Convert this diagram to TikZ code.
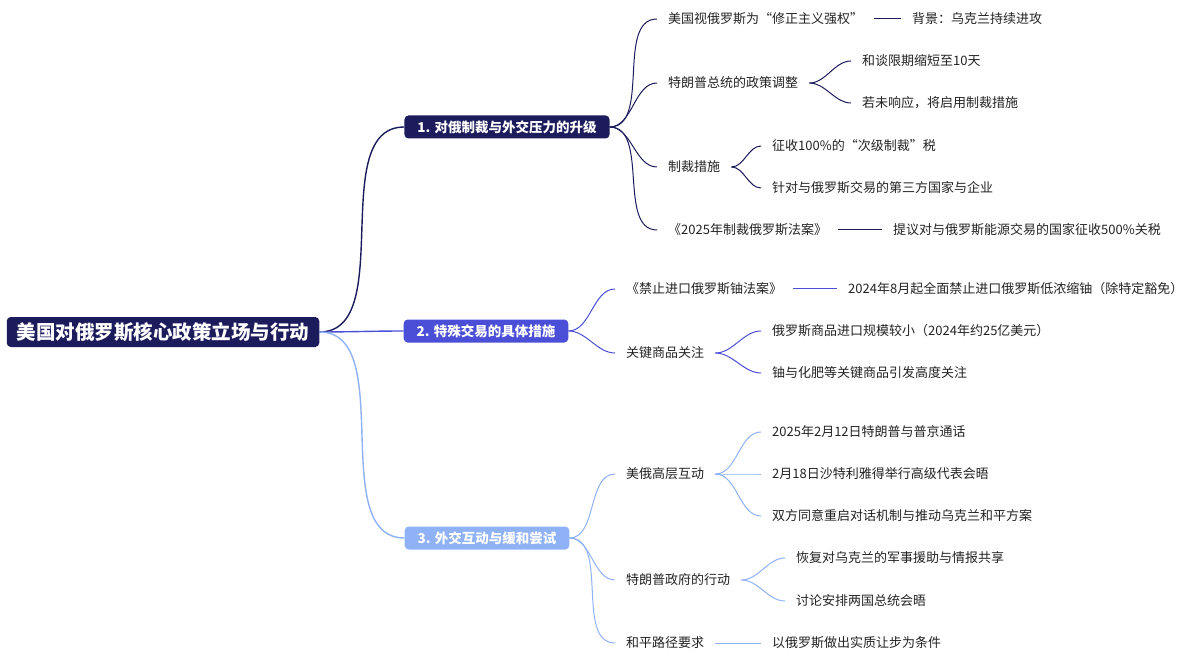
\documentclass[tikz,border=0pt]{standalone}
\usepackage{fontspec}
\setmainfont{Noto Sans CJK SC}
\usetikzlibrary{positioning}
\definecolor{navy}{HTML}{1C1B5C}
\definecolor{violet}{HTML}{4B4FD8}
\definecolor{sky}{HTML}{8FB2F6}
\definecolor{ink}{HTML}{222222}

\begin{document}
\begin{tikzpicture}[x=1pt,y=-1pt,
  every node/.append style={font=\fontsize{13}{15}\selectfont},
  root/.style={rectangle,rounded corners=4pt,fill=navy,text=white,inner xsep=10pt,minimum height=30pt,font=\fontsize{19.5}{21}\selectfont\bfseries},
  topic/.style={rectangle,rounded corners=4pt,text=white,inner xsep=13pt,minimum height=23pt,font=\fontsize{13.5}{15}\selectfont\bfseries},
  leaf/.style={anchor=west,text=ink,inner xsep=11pt,inner ysep=2pt},
  link/.style={line width=1pt,out=0,in=180,looseness=0.9},
  bar/.style={line width=1pt},
  rootlink/.style={line width=1.4pt,out=0,in=180,looseness=0.9}]
    \useasboundingbox (0,0) rectangle (1200,663);
    \node [root] (US) at (163,332) {美国对俄罗斯核心政策立场与行动};
    \node [topic, fill=navy] (T1) at (507,127) {1. 对俄制裁与外交压力的升级};
    \node [topic, fill=violet] (T2) at (486,331) {2. 特殊交易的具体措施};
    \node [topic, fill=sky] (T3) at (487,538) {3. 外交互动与缓和尝试};
    \draw [rootlink, navy] (US.east) to (T1.west);
    \draw [rootlink, violet] (US.east) to (T2.west);
    \draw [rootlink, sky] (US.east) to (T3.west);
    % branch 1
    \node [leaf] (A1) at (657,19) {美国视俄罗斯为“修正主义强权”};
    \node [leaf] (A11) at (901,19) {背景：乌克兰持续进攻};
    \node [leaf] (A2) at (657,83) {特朗普总统的政策调整};
    \node [leaf] (A21) at (851,61) {和谈限期缩短至10天};
    \node [leaf] (A22) at (851,103) {若未响应，将启用制裁措施};
    \node [leaf] (A3) at (657,167) {制裁措施};
    \node [leaf] (A31) at (761,146) {征收100\%的“次级制裁”税};
    \node [leaf] (A32) at (761,188) {针对与俄罗斯交易的第三方国家与企业};
    \node [leaf] (A4) at (657,230) {《2025年制裁俄罗斯法案》};
    \node [leaf] (A41) at (882,230) {提议对与俄罗斯能源交易的国家征收500\%关税};
    \foreach \c in {A1,A2,A3,A4} \draw [link, navy] (T1.east) to (\c.west);
    \draw [bar, navy] (A1.east) -- (A11.west);
    \draw [link, navy] (A2.east) to (A21.west);
    \draw [link, navy] (A2.east) to (A22.west);
    \draw [link, navy] (A3.east) to (A31.west);
    \draw [link, navy] (A3.east) to (A32.west);
    \draw [bar, navy] (A4.east) -- (A41.west);
    % branch 2
    \node [leaf] (B1) at (615,289) {《禁止进口俄罗斯铀法案》};
    \node [leaf] (B11) at (837,289) {2024年8月起全面禁止进口俄罗斯低浓缩铀（除特定豁免）};
    \node [leaf] (B2) at (615,353) {关键商品关注};
    \node [leaf] (B21) at (761,331) {俄罗斯商品进口规模较小（2024年约25亿美元）};
    \node [leaf] (B22) at (761,373) {铀与化肥等关键商品引发高度关注};
    \foreach \c in {B1,B2} \draw [link, violet] (T2.east) to (\c.west);
    \draw [bar, violet] (B1.east) -- (B11.west);
    \draw [link, violet] (B2.east) to (B21.west);
    \draw [link, violet] (B2.east) to (B22.west);
    % branch 3
    \node [leaf] (C1) at (615,474) {美俄高层互动};
    \node [leaf] (C11) at (761,432) {2025年2月12日特朗普与普京通话};
    \node [leaf] (C12) at (761,474) {2月18日沙特利雅得举行高级代表会晤};
    \node [leaf] (C13) at (761,516) {双方同意重启对话机制与推动乌克兰和平方案};
    \node [leaf] (C2) at (615,580) {特朗普政府的行动};
    \node [leaf] (C21) at (785,558) {恢复对乌克兰的军事援助与情报共享};
    \node [leaf] (C22) at (785,601) {讨论安排两国总统会晤};
    \node [leaf] (C3) at (615,643) {和平路径要求};
    \node [leaf] (C31) at (761,643) {以俄罗斯做出实质让步为条件};
    \foreach \c in {C1,C2,C3} \draw [link, sky] (T3.east) to (\c.west);
    \foreach \c in {C11,C12,C13} \draw [link, sky] (C1.east) to (\c.west);
    \foreach \c in {C21,C22} \draw [link, sky] (C2.east) to (\c.west);
    \draw [bar, sky] (C3.east) -- (C31.west);
\end{tikzpicture}
\end{document}
